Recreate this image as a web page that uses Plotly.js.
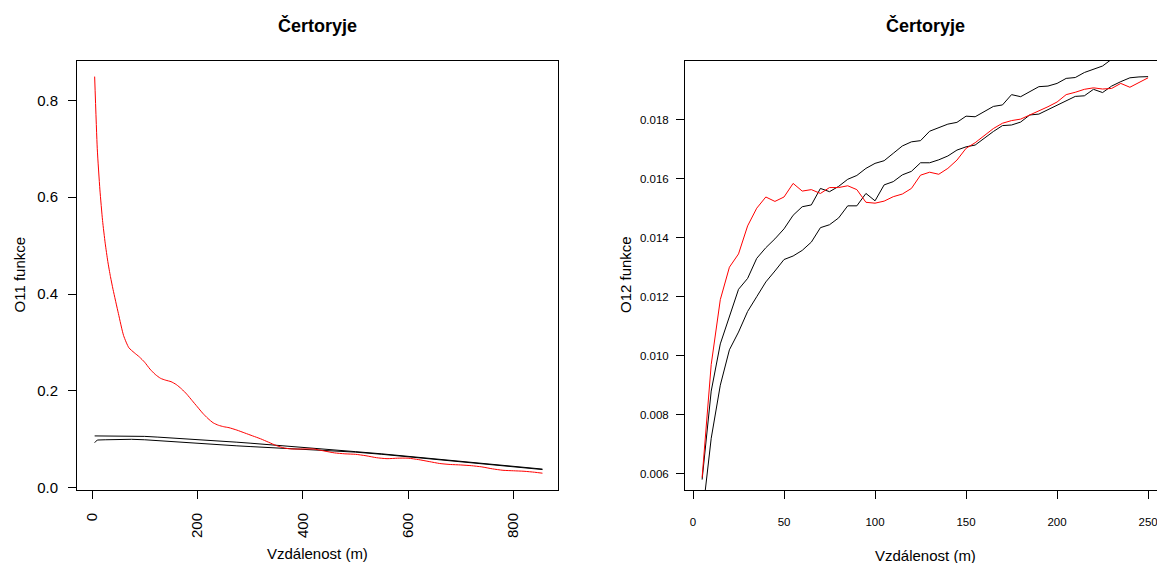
<!DOCTYPE html>
<html>
<head>
<meta charset="utf-8">
<script src="https://cdn.plot.ly/plotly-3.0.1.min.js"></script>
<style>html,body{margin:0;padding:0;background:#fff;}#chart{width:1157px;height:563px;}</style>
</head>
<body>
<div id="chart"></div>
<script>
// ---------- Left panel: O11 function ----------
const distLeftObs = [5,10,15,20,25,30,35,40,50,60,70,80,90,100,110,120,130,140,150,160,170,180,190,200,210,220,230,240,250,260,275,290,305,320,335,350,365,380,400,420,440,460,480,500,520,540,560,580,600,620,640,660,680,700,720,740,760,780,800,820,840,855];
const o11Observed = [0.849,0.70,0.615,0.552,0.505,0.467,0.436,0.409,0.36,0.314,0.289,0.279,0.27,0.259,0.245,0.234,0.226,0.222,0.219,0.213,0.204,0.193,0.18,0.167,0.154,0.143,0.134,0.129,0.126,0.124,0.119,0.113,0.107,0.101,0.094,0.087,0.082,0.080,0.080,0.080,0.076,0.072,0.070,0.069,0.066,0.062,0.060,0.061,0.061,0.058,0.054,0.050,0.048,0.047,0.0455,0.043,0.039,0.036,0.035,0.034,0.032,0.030];
const distLeftEnv = [5,10,25,50,75,100,125,150,175,200,225,250,275,300,325,350,375,400,425,450,475,500,550,600,650,700,750,800,855];
const o11Upper = [0.107,0.107,0.107,0.1075,0.1068,0.106,0.1045,0.103,0.101,0.100,0.098,0.096,0.094,0.092,0.090,0.088,0.0855,0.083,0.0815,0.0795,0.077,0.0745,0.070,0.065,0.060,0.055,0.050,0.045,0.0385];
const o11Lower = [0.093,0.0985,0.099,0.100,0.100,0.099,0.097,0.095,0.0935,0.092,0.090,0.088,0.0865,0.085,0.0835,0.082,0.081,0.0805,0.079,0.0775,0.0755,0.0735,0.069,0.064,0.059,0.054,0.049,0.044,0.0375];
const leftXTicks = [0,200,400,600,800];
const leftYTicks = [0,0.2,0.4,0.6,0.8];

// ---------- Right panel: O12 function ----------
const distRight = [5,10,15,20,25,30,35,40,45,50,55,60,65,70,75,80,85,90,95,100,105,110,115,120,125,130,135,140,145,150,155,160,165,170,175,180,185,190,195,200,205,210,215,220,225,230,235,240,245,250];
const o12Observed = [0.00587,0.0097,0.0119,0.0130,0.01345,0.0144,0.0150,0.01538,0.01523,0.01538,0.01584,0.01558,0.01563,0.0155,0.0157,0.0157,0.01576,0.01563,0.0152,0.01517,0.01524,0.01539,0.01548,0.01567,0.01612,0.01622,0.01615,0.01635,0.01663,0.01703,0.01722,0.01746,0.0177,0.01788,0.01797,0.01802,0.01816,0.01829,0.01844,0.0186,0.01885,0.01893,0.01903,0.01908,0.01904,0.01906,0.01923,0.0191,0.01925,0.01942];
const o12Upper = [0.0058,0.0088,0.0104,0.0113,0.01225,0.01262,0.0133,0.01366,0.01396,0.0143,0.01476,0.01505,0.01511,0.01567,0.01556,0.01574,0.01598,0.01611,0.01635,0.01652,0.01661,0.01686,0.01711,0.01725,0.01729,0.01761,0.01773,0.01785,0.01791,0.01812,0.0181,0.01828,0.01845,0.0185,0.01885,0.01878,0.01895,0.01912,0.01914,0.01923,0.0194,0.01943,0.0196,0.0197,0.01982,0.02005,0.0202,0.0203,0.0204,0.0206];
const o12Lower = [0.0045,0.0072,0.0090,0.0102,0.0108,0.0115,0.0120,0.0125,0.01287,0.01326,0.01338,0.01357,0.01385,0.01434,0.01444,0.01467,0.01508,0.01508,0.0155,0.01525,0.01579,0.0159,0.01613,0.01625,0.01654,0.01654,0.01664,0.01677,0.01697,0.01708,0.01714,0.01738,0.0176,0.0178,0.01782,0.01792,0.01816,0.01819,0.01834,0.0185,0.01864,0.01879,0.01881,0.01903,0.01892,0.01914,0.01929,0.01942,0.01945,0.01946];
const rightXTicks = [0,50,100,150,200,250];
const rightYTicks = [0.006,0.008,0.010,0.012,0.014,0.016,0.018];

const titleText = "Čertoryje";
const xLabel = "Vzdálenost (m)";
const yLabelLeft = "O11 funkce";
const yLabelRight = "O12 funkce";

const FONT = "Liberation Sans, Arial, Helvetica, sans-serif";
const W = 1157, H = 563, T = 61, B = 73;
const plotH = H - T - B;
function py(p){ return (H - B - p) / plotH; } // pixel y -> paper y

function line(x, y, color, xa, ya, shape){
  return {x:x, y:y, type:'scatter', mode:'lines', xaxis:xa, yaxis:ya,
          line:{color:color, width:1, shape:shape || 'linear', smoothing:0.6}, hoverinfo:'skip', showlegend:false};
}

const traces = [
  line(distLeftEnv, o11Upper, '#000000', 'x', 'y'),
  line(distLeftEnv, o11Lower, '#000000', 'x', 'y'),
  line(distLeftObs, o11Observed, '#ff0000', 'x', 'y', 'spline'),
  line(distRight, o12Upper, '#000000', 'x2', 'y2'),
  line(distRight, o12Lower, '#000000', 'x2', 'y2'),
  line(distRight, o12Observed, '#ff0000', 'x2', 'y2')
];

const axCommon = {showgrid:false, zeroline:false, showline:true, linecolor:'#000', linewidth:1,
  ticks:'outside', ticklen:8, tickwidth:1, tickcolor:'#000', tickmode:'array', fixedrange:true,
  ticklabeloverflow:'allow'};

const layout = {
  width:W, height:H,
  margin:{l:0, r:0, t:T, b:B, pad:0},
  paper_bgcolor:'#fff', plot_bgcolor:'#fff',
  font:{family:FONT, color:'#000'},
  showlegend:false,
  xaxis:Object.assign({}, axCommon, {domain:[77/W, 558/W], range:[-28.5, 884.5], mirror:true,
    tickvals:leftXTicks, ticktext:leftXTicks.map(String), tickangle:-90,
    tickfont:{size:15, family:FONT, color:'#000'}, ticklabelstandoff:8, anchor:'y'}),
  yaxis:Object.assign({}, axCommon, {domain:[0,1], range:[-0.0047, 0.8812], mirror:true,
    tickvals:leftYTicks, ticktext:leftYTicks.map(v=>v.toFixed(1)),
    tickfont:{size:15, family:FONT, color:'#000'}, ticklabelstandoff:7, anchor:'x'}),
  xaxis2:Object.assign({}, axCommon, {domain:[685/W, 1], range:[-4.4, 254.9], mirror:true,
    tickvals:rightXTicks, ticktext:rightXTicks.map(String),
    tickfont:{size:11.5, family:FONT, color:'#000'}, ticklabelstandoff:13, anchor:'y2'}),
  yaxis2:Object.assign({}, axCommon, {domain:[0,1], range:[0.005447, 0.01999], mirror:false,
    tickvals:rightYTicks, ticktext:rightYTicks.map(v=>v.toFixed(3)),
    tickfont:{size:11.5, family:FONT, color:'#000'}, ticklabelstandoff:5, anchor:'x2'}),
  annotations:[
    {text:'<b>'+titleText+'</b>', xref:'paper', yref:'paper', x:317.5/W, y:py(26), xanchor:'center', yanchor:'middle', showarrow:false, font:{size:18, family:FONT, color:'#000'}},
    {text:'<b>'+titleText+'</b>', xref:'paper', yref:'paper', x:925.5/W, y:py(26), xanchor:'center', yanchor:'middle', showarrow:false, font:{size:18, family:FONT, color:'#000'}},
    {text:xLabel, xref:'paper', yref:'paper', x:317.5/W, y:py(553), xanchor:'center', yanchor:'middle', showarrow:false, font:{size:15, family:FONT, color:'#000'}},
    {text:xLabel, xref:'paper', yref:'paper', x:925.5/W, y:py(555), xanchor:'center', yanchor:'middle', showarrow:false, font:{size:15, family:FONT, color:'#000'}},
    {text:yLabelLeft, xref:'paper', yref:'paper', x:18.5/W, y:py(275), xanchor:'center', yanchor:'middle', textangle:-90, showarrow:false, font:{size:15, family:FONT, color:'#000'}},
    {text:yLabelRight, xref:'paper', yref:'paper', x:625/W, y:py(275), xanchor:'center', yanchor:'middle', textangle:-90, showarrow:false, font:{size:15, family:FONT, color:'#000'}}
  ]
};

Plotly.newPlot('chart', traces, layout, {staticPlot:true, displayModeBar:false});
</script>
</body>
</html>
